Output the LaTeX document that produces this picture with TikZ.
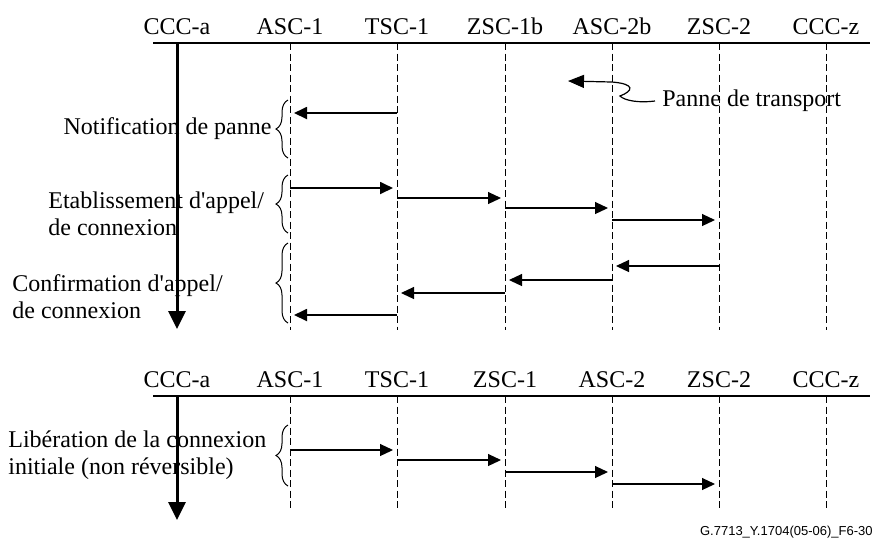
\documentclass[tikz,border=0pt]{standalone}
\usepackage{fontspec}
\setmainfont{Liberation Serif}
\setsansfont{Liberation Sans}
\usepackage{tikz}
\usetikzlibrary{
  	decorations.pathreplacing,
  	positioning,
  	arrows.meta,
  	calc
  }
\tikzstyle{head}=[inner sep=0pt, anchor=base, font=\fontsize{12}{14}\selectfont]
\tikzstyle{life}=[dash pattern=on 3.5pt off 1.75pt, line width=0.5pt]
\tikzstyle{timeline}=[line width=1.5pt, -{Triangle[length=9pt,width=8.5pt]}]
\tikzstyle{msg}=[-{Triangle[length=6.5pt,width=6pt]}, shorten >=2pt]
\tikzstyle{brc}=[decorate, decoration={brace, amplitude=6pt}, line width=0.5pt]
\tikzstyle{lbl}=[inner sep=0pt, align=left, font=\fontsize{12}{13.5}\selectfont]

\begin{document}
\begin{tikzpicture}[x=0.5pt, y=-0.5pt]
  \useasboundingbox (0,0) rectangle (875,538);
  \coordinate (brx) at (288,0);
  % upper chart
  \foreach \n/\t/\x in {ccca/CCC-a/177, asc1/ASC-1/290, tsc1/TSC-1/397, zsc1b/ZSC-1b/505,
      asc2b/ASC-2b/612, zsc2/ZSC-2/719, cccz/CCC-z/826}
    \node[head] (\n) at (\x,34) {\t};
  \draw[line width=0.7pt] (153,43) -- (870,43);
  \foreach \n in {asc1,tsc1,zsc1b,asc2b,zsc2,cccz}
    \draw[life] (\n |- 0,43) -- (\n |- 0,330);
  \draw[timeline] (ccca |- 0,43) -- (ccca |- 0,329);
  \foreach \a/\b/\y/\w in {tsc1/asc1/113/0.9, asc1/tsc1/188/0.9, tsc1/zsc1b/198/0.6,
      zsc1b/asc2b/208/0.6, asc2b/zsc2/220/0.6, zsc2/asc2b/266/0.6, asc2b/zsc1b/280/0.6,
      zsc1b/tsc1/293/0.6, tsc1/asc1/315/0.9}
    \draw[msg, line width=\w pt] (\a |- 0,\y) -- (\b |- 0,\y);
  \draw[brc] (brx |- 0,158) -- (brx |- 0,100)
    node[lbl, midway, left=8pt] (notif) {Notification de panne};
  \draw[brc] (brx |- 0,233) -- (brx |- 0,175);
  \node[lbl, anchor=west] (etab) at (48,214) {Etablissement d\textquotesingle appel/\\de connexion};
  \draw[brc] (brx |- 0,323) -- (brx |- 0,243);
  \node[lbl, anchor=west] (conf) at (12,297) {Confirmation d\textquotesingle appel/\\de connexion};
  \node[lbl, anchor=west, inner sep=3.5pt] (panne) at (655,101) {Panne de transport};
  \coordinate (fault) at (568,81);
  \draw[line width=0.6pt, -{Triangle[length=8pt,width=6.5pt]}] (panne.west)
    .. controls (640,103) and (625,101) .. (620,96)
    .. controls (633,91) and (636,84) .. (612,82) -- (fault);
  % lower chart
  \foreach \n/\t/\x in {cccaB/CCC-a/177, asc1B/ASC-1/290, tsc1B/TSC-1/397, zsc1B/ZSC-1/505,
      asc2B/ASC-2/612, zsc2B/ZSC-2/719, ccczB/CCC-z/826}
    \node[head] (\n) at (\x,387) {\t};
  \draw[line width=0.7pt] (153,396) -- (870,396);
  \foreach \n in {asc1B,tsc1B,zsc1B,asc2B,zsc2B,ccczB}
    \draw[life] (\n |- 0,396) -- (\n |- 0,510);
  \draw[timeline] (cccaB |- 0,396) -- (cccaB |- 0,520);
  \foreach \a/\b/\y in {asc1B/tsc1B/450, tsc1B/zsc1B/460, zsc1B/asc2B/472, asc2B/zsc2B/484}
    \draw[msg, line width=0.6pt] (\a |- 0,\y) -- (\b |- 0,\y);
  \draw[brc] (brx |- 0,486) -- (brx |- 0,425);
  \node[lbl, anchor=west] (lib) at (8,455) {Libération de la connexion\\initiale (non réversible)};
  \node[font=\sffamily\fontsize{6.5}{7}\selectfont, inner sep=0pt, anchor=base east] (fig)
    at (873,535) {G.7713\_Y.1704(05-06)\_F6-30};
\end{tikzpicture}
\end{document}
